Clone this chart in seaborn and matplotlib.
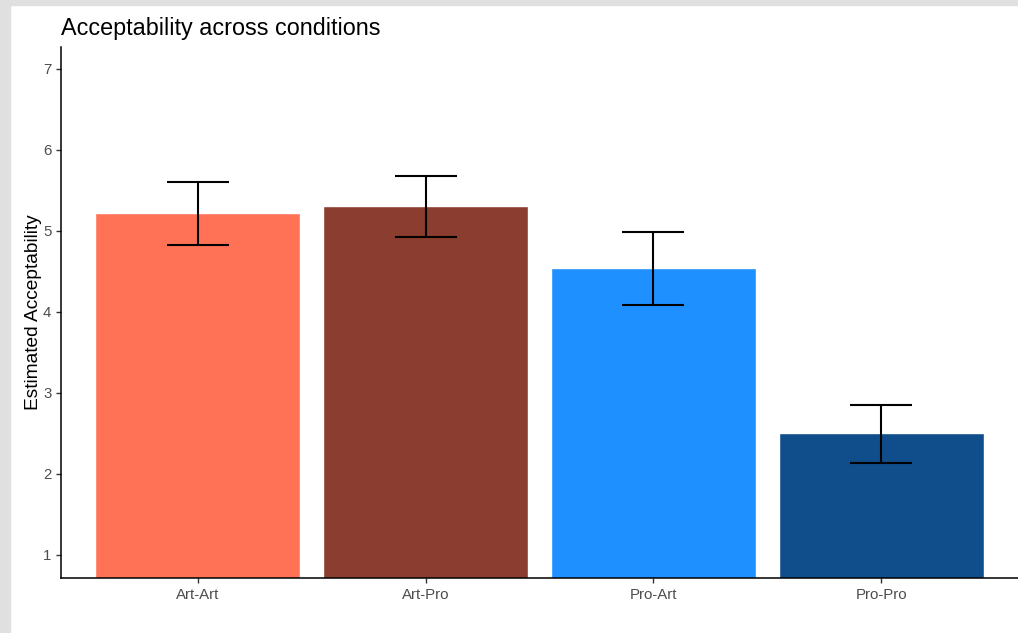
import numpy as np
import pandas as pd
import matplotlib
matplotlib.use("Agg")
import matplotlib.pyplot as plt
import seaborn as sns
from matplotlib.patches import Rectangle

# ---- data ----
conditions = ["Art-Art", "Art-Pro", "Pro-Art", "Pro-Pro"]
estimate = [5.22, 5.31, 4.54, 2.50]
ci_low = [4.83, 4.93, 4.09, 2.14]
ci_high = [5.60, 5.68, 4.99, 2.85]
bar_colors = ["#FF7256", "#8B3E2F", "#1E90FF", "#104E8B"]

df = pd.DataFrame({"condition": conditions, "estimate": estimate,
                   "lo": ci_low, "hi": ci_high})

sns.set_theme(style="white")
plt.rcParams["font.family"] = ["Liberation Sans", "DejaVu Sans"]

fig = plt.figure(figsize=(10.18, 6.33), dpi=100)
# grey frame strips at top/left
fig.patches.append(Rectangle((0, 1 - 5 / 633), 1, 5 / 633, transform=fig.transFigure,
                             color="#e0e0e0", zorder=0))
fig.patches.append(Rectangle((0, 0), 10 / 1018, 1, transform=fig.transFigure,
                             color="#e0e0e0", zorder=0))

ax = fig.add_axes([61 / 1018, 55 / 633, 1 - 61 / 1018, (578 - 47) / 633])
sns.barplot(data=df, x="condition", y="estimate", hue="condition",
            palette=bar_colors, width=0.9, saturation=1, legend=False, ax=ax)

x = np.arange(len(conditions))
ax.errorbar(x, df["estimate"],
            yerr=[df["estimate"] - df["lo"], df["hi"] - df["estimate"]],
            fmt="none", ecolor="black", elinewidth=1.5, capsize=22, capthick=1.5)

ax.set_xlim(-0.6, 3.6)
ax.set_ylim(0.716, 7.27)
ax.set_yticks([1, 2, 3, 4, 5, 6, 7])
ax.set_xlabel("")
ax.set_ylabel("Estimated Acceptability", fontsize=13.8, color="black", labelpad=1)
ax.set_title("Acceptability across conditions", fontsize=16.8, loc="left", x=0.0,
             y=1.0, pad=9, color="black")

sns.despine(ax=ax)
for s in ["left", "bottom"]:
    ax.spines[s].set_color("black")
    ax.spines[s].set_linewidth(1.1)
ax.tick_params(axis="both", length=3.5, width=1, color="#333333",
               labelsize=10.8, labelcolor="#4d4d4d", left=True, bottom=True)

fig.savefig("out.png", dpi=100, facecolor="white")
